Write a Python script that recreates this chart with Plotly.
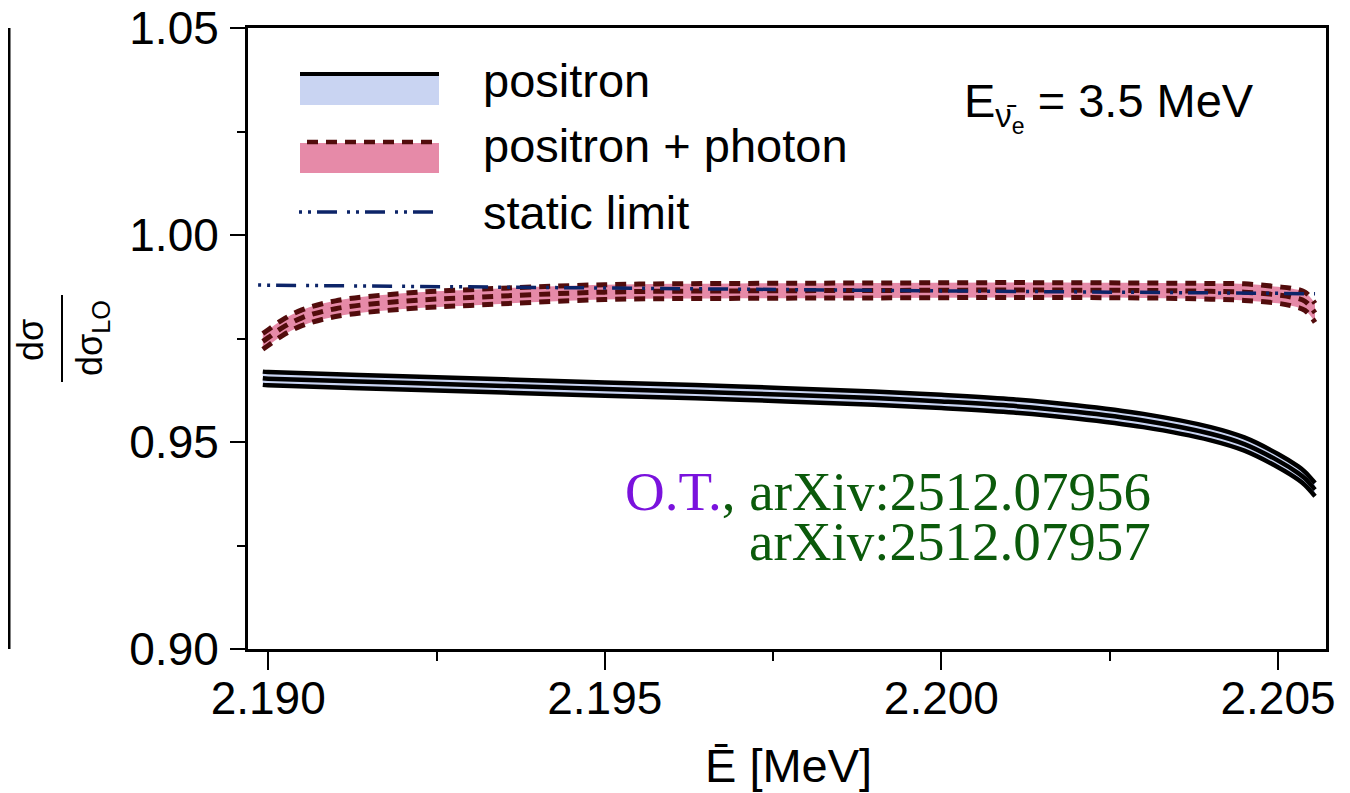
import plotly.graph_objects as go

# ---------------- data ----------------
x_pos = [2.18992, 2.1900, 2.1920, 2.1950, 2.1970, 2.1990, 2.2000, 2.2010,
         2.2020, 2.2030, 2.2040, 2.2045, 2.2050, 2.2053, 2.2054, 2.20555]
pos_mid = [0.9654, 0.9653, 0.9643, 0.9628, 0.9618, 0.9606, 0.9598, 0.9588,
           0.9573, 0.9552, 0.9520, 0.9495, 0.9455, 0.9425, 0.9412, 0.9385]
pos_hw = [0.0016, 0.0016, 0.0016, 0.0016, 0.0016, 0.0016, 0.0016, 0.0016,
          0.0016, 0.0016, 0.0016, 0.0016, 0.0016, 0.0016, 0.0016, 0.0016]

x_pho = [2.18992, 2.1900, 2.1902, 2.1905, 2.1910, 2.1920, 2.1930, 2.1950,
         2.1970, 2.1990, 2.2010, 2.2030, 2.2040, 2.2045, 2.2050, 2.2052,
         2.2054, 2.20555]
pho_mid = [0.9743, 0.9752, 0.9775, 0.9800, 0.9822, 0.9840, 0.9849, 0.9862,
           0.9865, 0.9866, 0.9867, 0.9866, 0.9864, 0.9862, 0.9855, 0.9850,
           0.9840, 0.9812]
pho_hw = [0.0019, 0.0019, 0.0019, 0.0019, 0.0019, 0.0019, 0.0019, 0.0018,
          0.0018, 0.0018, 0.0018, 0.0018, 0.0019, 0.0020, 0.0020, 0.0021,
          0.0022, 0.0023]

x_static = [2.18985, 2.1950, 2.2000, 2.2050, 2.20555]
static = [0.9879, 0.9871, 0.9865, 0.9859, 0.9858]

x_ticks = [2.190, 2.195, 2.200, 2.205]
y_ticks = [0.90, 0.95, 1.00, 1.05]

legend_labels = ["positron", "positron + photon", "static limit"]

# ---------------- styles ----------------
BLUE_BAND = "#c9d4f2"
PINK_BAND = "#e68aa8"
DARK_RED = "#520c0c"
NAVY = "#0c2468"
FONT = "Liberation Sans, Arial, Helvetica, sans-serif"
SERIF = "Liberation Serif, Times New Roman, serif"
PHO_DASH = "11px,8px"
STATIC_DASH = "3px,6px,3px,6px,20px,10px"

OFF = 8                      # page body margin of the browser
W, H = 1350 - OFF, 793 - OFF
# plot area in screen pixels of the reference
SL, SR, ST, SB = 248, 1326, 28, 649
L, R, T, B = SL - OFF, SR - OFF, ST - OFF, SB - OFF


def px(xs):
    """screen x pixel -> paper x"""
    return (xs - SL) / (SR - SL)


def py(ys):
    """screen y pixel -> paper y"""
    return (SB - ys) / (SB - ST)


fig = go.Figure()

pos_up = [m + h for m, h in zip(pos_mid, pos_hw)]
pos_lo = [m - h for m, h in zip(pos_mid, pos_hw)]
pho_up = [m + h for m, h in zip(pho_mid, pho_hw)]
pho_lo = [m - h for m, h in zip(pho_mid, pho_hw)]

# positron band + lines
fig.add_trace(go.Scatter(x=x_pos, y=pos_lo, mode="lines", line=dict(width=0, shape="spline"),
                         showlegend=False, hoverinfo="skip"))
fig.add_trace(go.Scatter(x=x_pos, y=pos_up, mode="lines", line=dict(width=0, shape="spline"),
                         fill="tonexty", fillcolor=BLUE_BAND, showlegend=False, hoverinfo="skip"))
for yy in (pos_up, pos_mid, pos_lo):
    fig.add_trace(go.Scatter(x=x_pos, y=yy, mode="lines",
                             line=dict(color="black", width=4.5, shape="spline"),
                             showlegend=False))

# positron + photon band + lines
fig.add_trace(go.Scatter(x=x_pho, y=pho_lo, mode="lines", line=dict(width=0, shape="spline"),
                         showlegend=False, hoverinfo="skip"))
fig.add_trace(go.Scatter(x=x_pho, y=pho_up, mode="lines", line=dict(width=0, shape="spline"),
                         fill="tonexty", fillcolor=PINK_BAND, showlegend=False, hoverinfo="skip"))
for yy in (pho_up, pho_mid, pho_lo):
    fig.add_trace(go.Scatter(x=x_pho, y=yy, mode="lines",
                             line=dict(color=DARK_RED, width=5, dash=PHO_DASH, shape="spline"),
                             showlegend=False))

# static limit
fig.add_trace(go.Scatter(x=x_static, y=static, mode="lines",
                         line=dict(color=NAVY, width=3.5, dash=STATIC_DASH),
                         showlegend=False))

axis_common = dict(showline=True, linecolor="black", linewidth=3, mirror=True,
                   ticks="outside", tickcolor="black", tickwidth=2,
                   showgrid=False, zeroline=False, automargin=False,
                   ticklabeloverflow="allow",
                   tickfont=dict(family=FONT, size=46, color="black"))

fig.update_xaxes(range=[2.18970, 2.205713], tickvals=x_ticks, tickformat=".3f",
                 ticklen=18, ticklabelstandoff=-11,
                 minor=dict(dtick=0.0025, tick0=2.1925, ticks="outside", ticklen=9,
                            tickwidth=2, tickcolor="black"),
                 **axis_common)
fig.update_yaxes(range=[0.90, 1.05], tickvals=y_ticks, tickformat=".2f",
                 ticklen=15, ticklabelstandoff=2,
                 minor=dict(dtick=0.025, tick0=0.925, ticks="outside", ticklen=8,
                            tickwidth=2, tickcolor="black"),
                 **axis_common)

shapes = []
ann = []

# manual legend
shapes.append(dict(type="rect", xref="paper", yref="paper", x0=px(300), x1=px(439),
                   y0=py(105), y1=py(75), fillcolor=BLUE_BAND, line=dict(width=0), layer="above"))
shapes.append(dict(type="line", xref="paper", yref="paper", x0=px(300), x1=px(439),
                   y0=py(74), y1=py(74), line=dict(color="black", width=4), layer="above"))
shapes.append(dict(type="rect", xref="paper", yref="paper", x0=px(300), x1=px(439),
                   y0=py(173), y1=py(143), fillcolor=PINK_BAND, line=dict(width=0), layer="above"))
shapes.append(dict(type="line", xref="paper", yref="paper", x0=px(307), x1=px(435),
                   y0=py(142), y1=py(142), line=dict(color=DARK_RED, width=4.5, dash=PHO_DASH),
                   layer="above"))
shapes.append(dict(type="line", xref="paper", yref="paper", x0=px(299), x1=px(437),
                   y0=py(212), y1=py(212),
                   line=dict(color=NAVY, width=3.5, dash=STATIC_DASH), layer="above"))

for lab, yc in zip(legend_labels, [80, 146, 212]):
    ann.append(dict(text=lab, xref="paper", yref="paper", x=px(481), y=py(yc),
                    xanchor="left", yanchor="middle", showarrow=False,
                    font=dict(family=FONT, size=47, color="black")))

# energy label
ann.append(dict(text="E<sub>ν̄<sub>e</sub></sub> = 3.5 MeV", xref="paper", yref="paper",
                x=px(962), y=py(106), xanchor="left", yanchor="middle", showarrow=False,
                font=dict(family=FONT, size=47, color="black")))

# arXiv credit
ann.append(dict(text="<span style='color:#7a12dd'>O.T.</span>, arXiv:2512.07956",
                xref="paper", yref="paper", x=px(1153), y=py(491),
                xanchor="right", yanchor="middle", showarrow=False,
                font=dict(family=SERIF, size=55, color="#0b5a0b")))
ann.append(dict(text="arXiv:2512.07957",
                xref="paper", yref="paper", x=px(1153), y=py(541),
                xanchor="right", yanchor="middle", showarrow=False,
                font=dict(family=SERIF, size=55, color="#0b5a0b")))

# x axis title
ann.append(dict(text="Ē [MeV]", xref="paper", yref="paper", x=px(788), y=py(765),
                xanchor="center", yanchor="middle", showarrow=False,
                font=dict(family=FONT, size=47, color="black")))

# y axis title as a fraction
ann.append(dict(text="dσ", xref="paper", yref="paper", x=px(30), y=py(340),
                xanchor="center", yanchor="middle", showarrow=False, textangle=-90,
                font=dict(family=FONT, size=36, color="black")))
ann.append(dict(text="dσ<sub>LO</sub>", xref="paper", yref="paper", x=px(92), y=py(338),
                xanchor="center", yanchor="middle", showarrow=False, textangle=-90,
                font=dict(family=FONT, size=36, color="black")))
shapes.append(dict(type="line", xref="paper", yref="paper", x0=px(62), x1=px(62),
                   y0=py(295), y1=py(382), line=dict(color="black", width=2)))

# frame edge of the neighbouring panel on the left
shapes.append(dict(type="line", xref="paper", yref="paper", x0=px(9), x1=px(9),
                   y0=py(ST), y1=py(SB), line=dict(color="black", width=3)))

fig.update_layout(width=W, height=H, margin=dict(l=L, r=W - R, t=T, b=H - B, autoexpand=False),
                  plot_bgcolor="white", paper_bgcolor="white",
                  showlegend=False, shapes=shapes, annotations=ann)

fig.write_html("out.html")
